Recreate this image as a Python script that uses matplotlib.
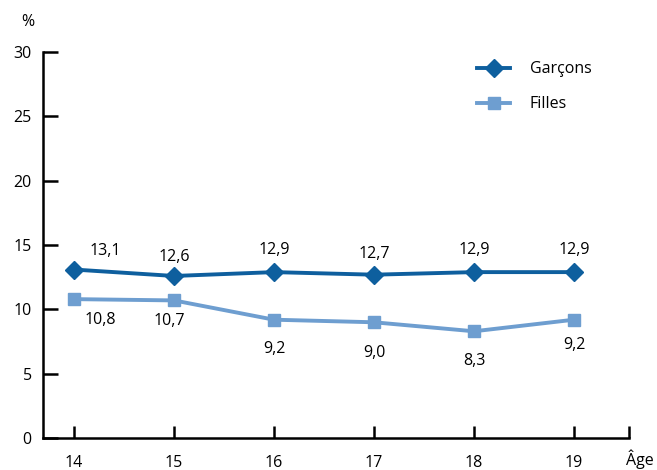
import matplotlib
matplotlib.use("Agg")
import matplotlib.pyplot as plt

ages = [14, 15, 16, 17, 18, 19]
garcons = [13.1, 12.6, 12.9, 12.7, 12.9, 12.9]
filles = [10.8, 10.7, 9.2, 9.0, 8.3, 9.2]
yticks = [0, 5, 10, 15, 20, 25, 30]

plt.rcParams['font.family'] = ['Open Sans', 'DejaVu Sans']

c_g = '#0e5f9e'
c_f = '#6e9ed0'

fig = plt.figure(figsize=(6.57, 4.70), dpi=100)
ax = fig.add_axes([0.0654, 0.068, 0.892, 0.821])

ax.plot(ages, garcons, color=c_g, lw=2.8, marker='D', ms=9, label='Garçons', clip_on=False)
ax.plot(ages, filles, color=c_f, lw=2.8, marker='s', ms=8.5, label='Filles', clip_on=False)

ax.set_xlim(13.69, 19.55)
ax.set_ylim(0, 30)
ax.spines['top'].set_visible(False)
ax.spines['right'].set_visible(False)
for s in ['left', 'bottom']:
    ax.spines[s].set_linewidth(1.8)

ax.set_yticks(yticks)
ax.set_yticklabels([str(v) for v in yticks], fontsize=11.5)
ax.tick_params(axis='y', direction='in', length=11, width=1.8, pad=8)
ax.set_xticks(ages + [19.55])
ax.set_xticklabels([str(a) for a in ages] + [''], fontsize=11.5)
ax.tick_params(axis='x', direction='in', length=9, width=1.8, pad=12)

fs = 11.5
g_off = [(0.31, 1.45), (0.0, 1.45), (0.0, 1.7), (0.0, 1.6), (0.0, 1.7), (0.0, 1.7)]
for a, v, (dx, dy) in zip(ages, garcons, g_off):
    ax.text(a + dx, v + dy, f"{v:.1f}".replace('.', ','), ha='center', va='center', fontsize=fs)
f_off = [(0.26, -1.6), (-0.05, -1.6), (0.0, -2.3), (0.0, -2.4), (0.0, -2.3), (0.0, -2.0)]
for a, v, (dx, dy) in zip(ages, filles, f_off):
    ax.text(a + dx, v + dy, f"{v:.1f}".replace('.', ','), ha='center', va='center', fontsize=fs)

fig.text(28 / 657, 1 - 22 / 470, '%', ha='center', va='center', fontsize=11.5)
fig.text(640 / 657, 1 - 459 / 470, 'Âge', ha='center', va='center', fontsize=11.5)

leg = ax.legend(loc='upper left', bbox_to_anchor=(0.716, 1.014), frameon=False,
                fontsize=11.5, handlelength=2.1, labelspacing=1.2, handletextpad=1.2)

fig.savefig('out.png', dpi=100)
